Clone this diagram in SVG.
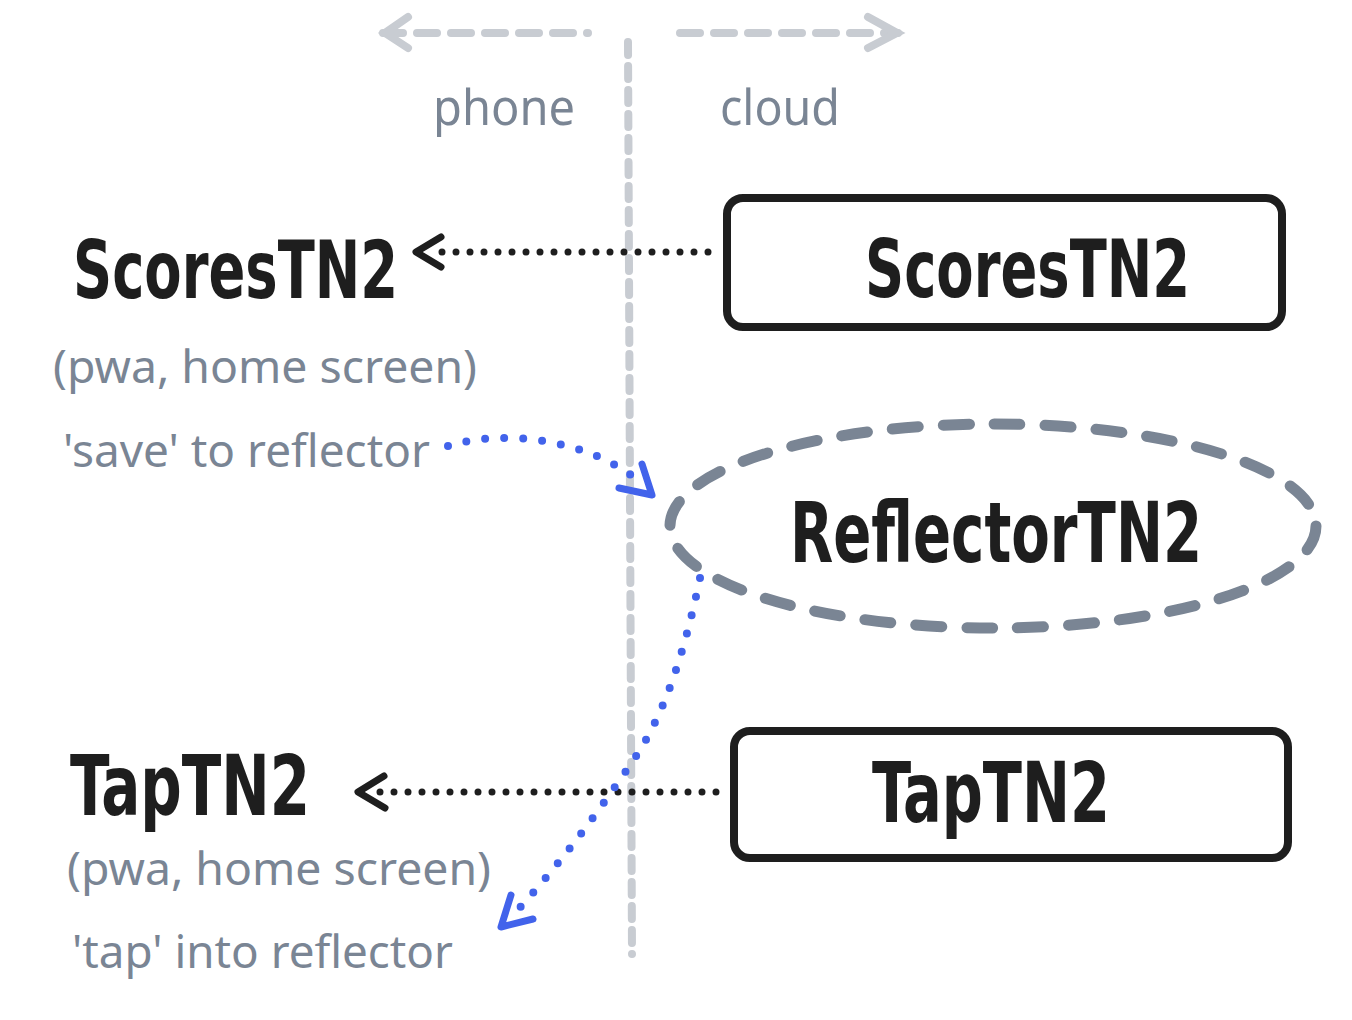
<svg xmlns="http://www.w3.org/2000/svg" width="1352" height="1020" viewBox="0 0 1352 1020">
<style>
.lbl{font-family:"Noto Sans","Open Sans",sans-serif;fill:#7a8594;}
.hand{font-family:"DejaVu Sans Condensed","DejaVu Sans",sans-serif;font-weight:bold;fill:#1e1e1e;}
.box{fill:#fff;stroke:#1e1e1e;stroke-width:8;}
.dotk{fill:none;stroke:#1e1e1e;stroke-width:7;stroke-linecap:round;stroke-dasharray:0 14;}
.dotb{fill:none;stroke:#4263eb;stroke-width:8;stroke-linecap:round;stroke-dasharray:0 19;}
.headk{fill:none;stroke:#1e1e1e;stroke-width:7;stroke-linecap:round;stroke-linejoin:round;}
.headb{fill:none;stroke:#4263eb;stroke-width:7;stroke-linecap:round;stroke-linejoin:round;}
.grey{fill:none;stroke:#c8ccd2;stroke-width:8;stroke-linecap:round;}
</style>
<rect width="1352" height="1020" fill="#fff"/>
<g id="divider">
<path class="grey" d="M383,33 L588,33" stroke-dasharray="20 14"/>
<path class="grey" d="M408,17 L385,33 L408,48"/>
<path class="grey" d="M680,33 L898,33" stroke-dasharray="20 14"/>
<path class="grey" d="M868,17 L897,33 L868,48"/>
<path class="grey" d="M628,42 L632,954" stroke-dasharray="13 11" stroke-width="7"/>
<text class="lbl" x="433" y="125" font-size="50" textLength="142" lengthAdjust="spacingAndGlyphs">phone</text>
<text class="lbl" x="720" y="125" font-size="50" textLength="120" lengthAdjust="spacingAndGlyphs">cloud</text>
</g>
<g id="scores-phone">
<text class="hand" x="73" y="298" font-size="80" textLength="325" lengthAdjust="spacingAndGlyphs">ScoresTN2</text>
<text class="lbl" x="53" y="383" font-size="46" textLength="424" lengthAdjust="spacingAndGlyphs">(pwa, home screen)</text>
<text class="lbl" x="63" y="467" font-size="46" textLength="367" lengthAdjust="spacingAndGlyphs">'save' to reflector</text>
</g>
<g id="scores-cloud">
<rect class="box" x="727" y="198" width="555" height="129" rx="16"/>
<text class="hand" x="865" y="297" font-size="80" textLength="325" lengthAdjust="spacingAndGlyphs">ScoresTN2</text>
</g>
<g id="reflector">
<ellipse cx="993" cy="526" rx="323" ry="102" fill="none" stroke="#7a8594" stroke-width="11" stroke-linecap="round" stroke-dasharray="26 25"/>
<text class="hand" x="790" y="562" font-size="84" textLength="412" lengthAdjust="spacingAndGlyphs">ReflectorTN2</text>
</g>
<g id="tap-cloud">
<rect class="box" x="734" y="731" width="554" height="127" rx="16"/>
<text class="hand" x="872" y="822" font-size="84" textLength="238" lengthAdjust="spacingAndGlyphs">TapTN2</text>
</g>
<g id="tap-phone">
<text class="hand" x="70" y="815" font-size="84" textLength="240" lengthAdjust="spacingAndGlyphs">TapTN2</text>
<text class="lbl" x="67" y="885" font-size="46" textLength="424" lengthAdjust="spacingAndGlyphs">(pwa, home screen)</text>
<text class="lbl" x="72" y="968" font-size="46" textLength="381" lengthAdjust="spacingAndGlyphs">'tap' into reflector</text>
</g>
<g id="connectors">
<path class="dotk" d="M708,252 L428,252"/>
<path class="headk" d="M441,237 L416,252 L441,267"/>
<path class="dotk" d="M716,792 L368,792"/>
<path class="headk" d="M384,776 L358,792 L385,808"/>
<path class="dotb" d="M448,446 C505,428 590,440 640,482"/>
<path class="headb" d="M642,464 L652,495 L619,488"/>
<path class="dotb" d="M700,578 C685,650 665,715 632,762 C592,822 548,878 512,916"/>
<path class="headb" d="M511,895 L501,927 L533,919"/>
</g>
</svg>
